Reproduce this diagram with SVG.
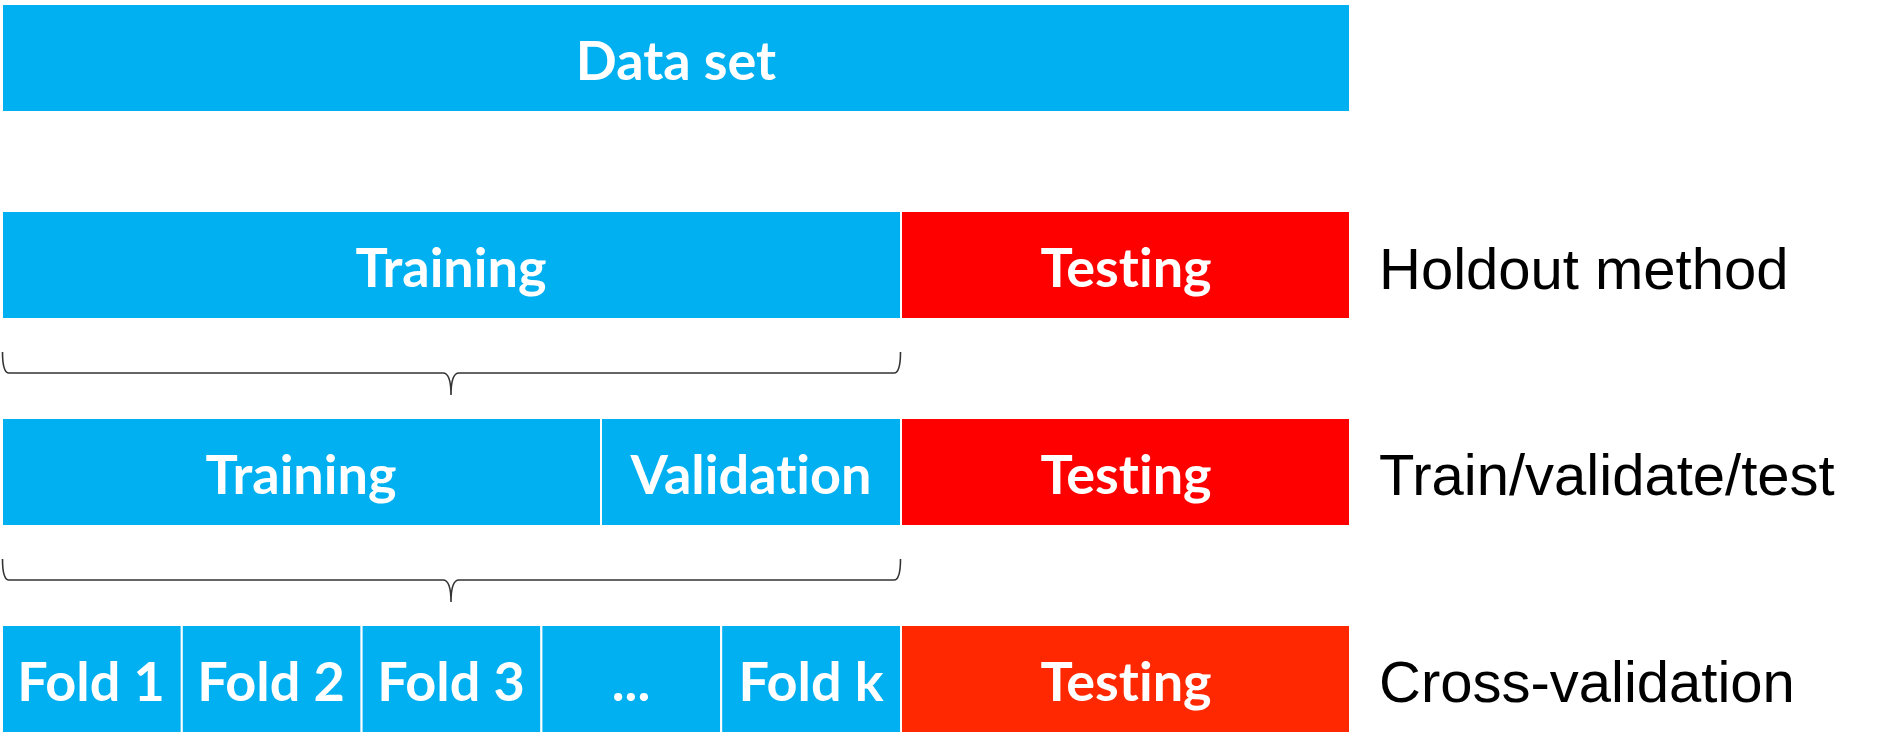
<svg xmlns="http://www.w3.org/2000/svg" width="1904" height="752" viewBox="0 0 1904 752">
  <style>
    .blue { fill: #00B0F0; stroke: #ffffff; stroke-width: 2; }
    .red { fill: #FF0000; stroke: #ffffff; stroke-width: 2; }
    .red2 { fill: #FF2800; stroke: #ffffff; stroke-width: 2; }
    .lbl { font-family: Lato, "Open Sans", "Liberation Sans", sans-serif; font-weight: 700; font-size: 54px; fill: #ffffff; text-anchor: middle; font-variant-ligatures: none; font-feature-settings: "liga" 0, "clig" 0, "dlig" 0; }
    .side { font-family: "Liberation Sans", Arial, sans-serif; font-size: 58px; fill: #000000; }
    .brace { fill: none; stroke: #333333; stroke-width: 1.6; }
  </style>
  <rect width="1904" height="752" fill="#ffffff"/>

  <!-- full data set -->
  <g id="dataset">
    <rect class="blue" x="2" y="4" width="1348" height="108"/>
    <text class="lbl" x="676" y="80">Data set</text>
  </g>

  <!-- holdout split -->
  <g id="holdout-training">
    <rect class="blue" x="2" y="211" width="899" height="108"/>
    <text class="lbl" x="451" y="287">Training</text>
  </g>
  <g id="holdout-testing">
    <rect class="red" x="901" y="211" width="449" height="108"/>
    <text class="lbl" x="1126" y="287">Testing</text>
  </g>
  <text id="label-holdout" class="side" x="1379" y="289">Holdout method</text>

  <!-- train / validate / test split -->
  <g id="tvt-training">
    <rect class="blue" x="2" y="418" width="599" height="108"/>
    <text class="lbl" x="301" y="494">Training</text>
  </g>
  <g id="tvt-validation">
    <rect class="blue" x="601" y="418" width="300" height="108"/>
    <text class="lbl" x="751" y="494">Validation</text>
  </g>
  <g id="tvt-testing">
    <rect class="red" x="901" y="418" width="449" height="108"/>
    <text class="lbl" x="1126" y="494">Testing</text>
  </g>
  <text id="label-tvt" class="side" x="1379" y="495">Train/validate/test</text>

  <!-- k-fold cross-validation -->
  <g id="fold-1">
    <rect class="blue" x="2" y="625" width="179.8" height="108"/>
    <text class="lbl" x="91" y="701">Fold 1</text>
  </g>
  <g id="fold-2">
    <rect class="blue" x="181.8" y="625" width="179.8" height="108"/>
    <text class="lbl" x="271" y="701">Fold 2</text>
  </g>
  <g id="fold-3">
    <rect class="blue" x="361.6" y="625" width="179.8" height="108"/>
    <text class="lbl" x="451" y="701">Fold 3</text>
  </g>
  <g id="fold-more">
    <rect class="blue" x="541.4" y="625" width="179.8" height="108"/>
    <text class="lbl" x="631" y="701">...</text>
  </g>
  <g id="fold-k">
    <rect class="blue" x="721.2" y="625" width="179.8" height="108"/>
    <text class="lbl" x="811" y="701">Fold k</text>
  </g>
  <g id="cv-testing">
    <rect class="red2" x="901" y="625" width="449" height="108"/>
    <text class="lbl" x="1126" y="701">Testing</text>
  </g>
  <text id="label-cv" class="side" x="1379" y="702">Cross-validation</text>

  <!-- braces showing which part is split further -->
  <g id="connectors">
    <path class="brace" d="M2.5,352 Q2.5,373 9,373 L443,373 Q451,373 451,395 Q451,373 459,373 L894,373 Q900.5,373 900.5,352"/>
    <path class="brace" d="M2.5,559 Q2.5,580 9,580 L443,580 Q451,580 451,602 Q451,580 459,580 L894,580 Q900.5,580 900.5,559"/>
  </g>
</svg>
